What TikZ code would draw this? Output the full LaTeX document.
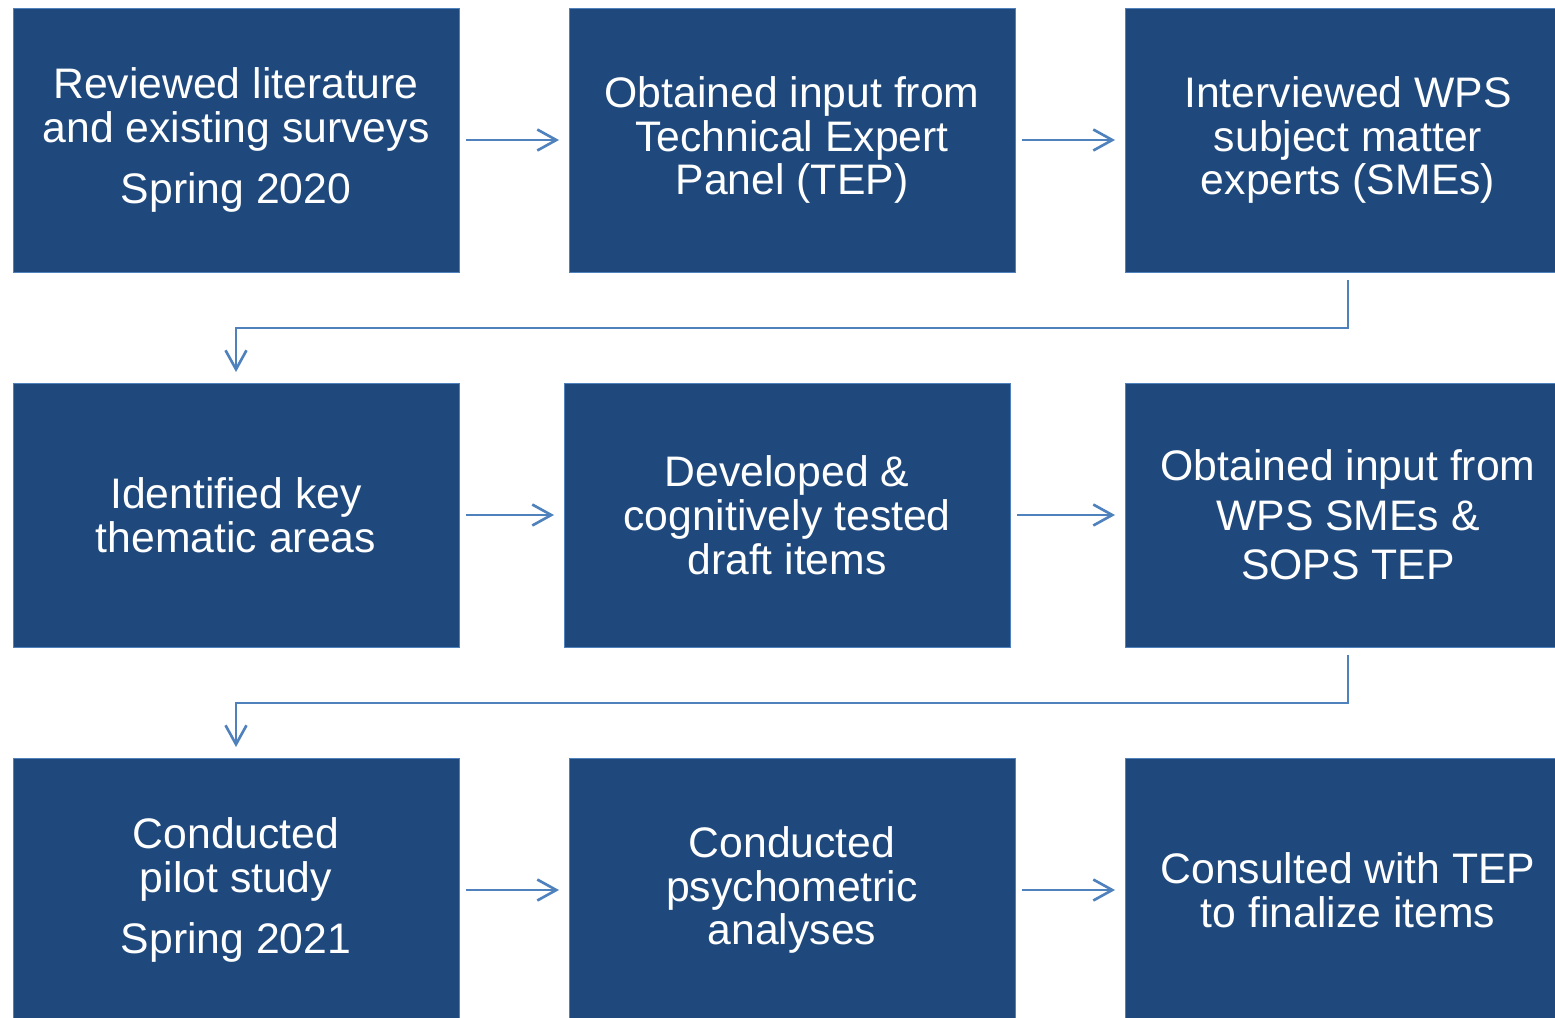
\documentclass[tikz,border=0pt]{standalone}
\usepackage{fontspec}
\setmainfont{Liberation Sans}
\usetikzlibrary{arrows.meta,positioning}
\definecolor{taskblue}{RGB}{31,73,125}
\definecolor{linkblue}{RGB}{79,129,189}

\begin{document}
\begin{tikzpicture}[>={Straight Barb[length=0.38cm,width=0.42cm]},
		task/.style={rectangle, fill=taskblue, draw=linkblue, line width=0.4pt,
			text=white, align=center, inner sep=0pt, outer sep=0pt,
			minimum width=8.92cm, minimum height=5.28cm,
			font=\fontsize{24.3}{25}\selectfont},
		link/.style={->, draw=linkblue, line width=1.5pt,
			shorten <=0.14cm, shorten >=0.2cm}]

		\path[use as bounding box, clip] (0,0) rectangle (31.1,-20.34);

		\node[task] (Review) at (4.72,-2.8) {Reviewed literature\\and existing surveys\\[0.34cm]Spring 2020};
		\node[task] (Input1) [right=2.2cm of Review] {Obtained input from\\Technical Expert\\Panel (TEP)};
		\node[task] (Interview) [right=2.2cm of Input1] {Interviewed WPS\\subject matter\\experts (SMEs)};
		\node[task] (Themes) [below=2.22cm of Review] {Identified key\\thematic areas};
		\node[task] (Draft) [right=2.1cm of Themes] {Developed \&\\cognitively tested\\draft items};
		\node[task] (Input2) [right=2.3cm of Draft] {Obtained input from\\[0.11cm]WPS SMEs \&\\[0.11cm]SOPS TEP};
		\node[task] (Pilot) [below=2.22cm of Themes] {Conducted\\pilot study\\[0.34cm]Spring 2021};
		\node[task] (Analysis) [right=2.2cm of Pilot] {Conducted\\psychometric\\analyses};
		\node[task] (Consult) [right=2.2cm of Analysis] {Consulted with TEP\\to finalize items};

		\draw[link] (Review) -- (Input1);
		\draw[link] (Input1) -- (Interview);
		\draw[link, shorten <=0.16cm, shorten >=0.22cm] (Interview.south) -- ++(0,-1.12) -| (Themes.north);
		\draw[link] (Themes) -- (Draft);
		\draw[link] (Draft) -- (Input2);
		\draw[link, shorten <=0.16cm, shorten >=0.22cm] (Input2.south) -- ++(0,-1.12) -| (Pilot.north);
		\draw[link] (Pilot) -- (Analysis);
		\draw[link] (Analysis) -- (Consult);
	\end{tikzpicture}
\end{document}
